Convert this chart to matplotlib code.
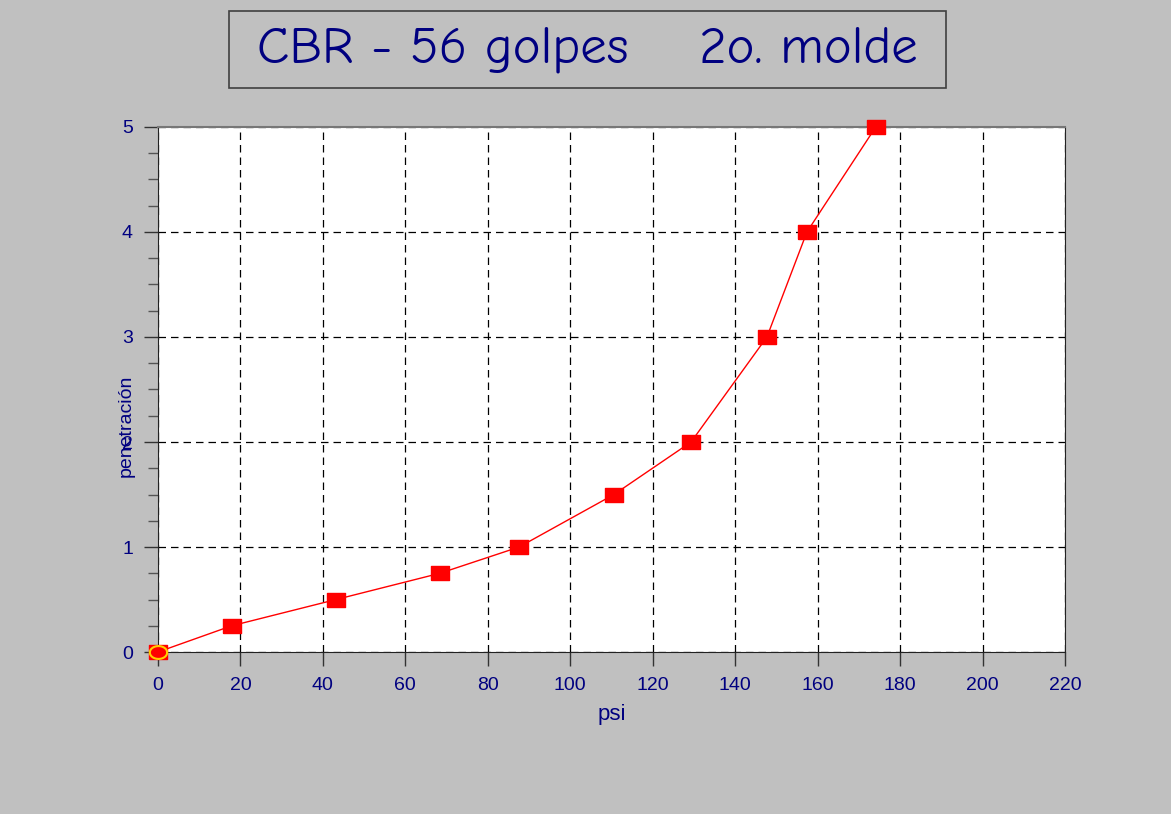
import matplotlib
matplotlib.use('Agg')
import matplotlib.pyplot as plt
import numpy as np
from matplotlib.ticker import MultipleLocator
from matplotlib.patches import Rectangle

# psi vs penetracion
psi = [0, 17.9, 43.2, 68.4, 87.6, 110.6, 129.3, 147.7, 157.4, 174.1]
penetracion = [0, 0.25, 0.5, 0.75, 1, 1.5, 2, 3, 4, 5]
x_ticks = [0, 20, 40, 60, 80, 100, 120, 140, 160, 180, 200, 220]
y_ticks = [0, 1, 2, 3, 4, 5]

navy = '#000080'
bg = '#c0c0c0'

fig = plt.figure(figsize=(11.71, 8.14), dpi=100, facecolor=bg)

# title in a framed box
fig.patches.append(Rectangle((0.1956, 0.8919), 0.6123, 0.0946, transform=fig.transFigure,
                             fc=bg, ec='#404040', lw=1.2))
fig.text(0.5017, 0.9392, 'CBR - 56 golpes    2o. molde', ha='center', va='center',
         fontsize=38, color=navy, family=['Comic Neue', 'Lato', 'DejaVu Sans'])

ax = fig.add_axes([0.1349, 0.199, 0.7746, 0.645])
ax.set_facecolor('white')

# slightly wide rectangle marker
rect = [(-1.35, -1), (1.35, -1), (1.35, 1), (-1.35, 1), (-1.35, -1)]
t = np.linspace(0, 2 * np.pi, 40)
ellipse = list(zip(1.35 * np.cos(t), np.sin(t)))

ax.plot(psi, penetracion, color='red', lw=1, marker=rect, ms=13, mfc='red', mec='red',
        zorder=3, clip_on=False)
ax.plot(psi[0], penetracion[0], marker=ellipse, ms=12.5, mfc='red', mec='#ffd000', mew=1.5,
        ls='none', zorder=4, clip_on=False)

ax.set_xlim(0, 220)
ax.set_ylim(0, 5)
ax.set_xticks(x_ticks)
ax.set_yticks(y_ticks)
ax.yaxis.set_minor_locator(MultipleLocator(0.25))
ax.grid(True, which='major', color='black', ls=(0, (6, 4)), lw=0.9)

ax.tick_params(axis='both', which='major', direction='out', length=10, width=1,
               color='#333333', labelcolor=navy, labelsize=14)
ax.tick_params(axis='y', which='minor', direction='out', length=7, width=1, color='#555555')
for lab in ax.get_xticklabels() + ax.get_yticklabels():
    lab.set_family(['Liberation Sans', 'DejaVu Sans'])
ax.tick_params(axis='x', pad=8)
ax.tick_params(axis='y', pad=8)

for s in ['left', 'bottom', 'right']:
    ax.spines[s].set_color('#222222')
ax.spines['top'].set_color('#777777')
ax.spines['top'].set_linewidth(1.5)

ax.set_xlabel('psi', color=navy, fontsize=16, family=['Liberation Sans', 'DejaVu Sans'], labelpad=7)
ax.set_ylabel('penetración', color=navy, fontsize=14,
              family=['Liberation Sans Narrow', 'Liberation Sans', 'DejaVu Sans'])
ax.yaxis.set_label_coords(-0.026, 0.43)

fig.savefig('out.png', dpi=100, facecolor=bg)
